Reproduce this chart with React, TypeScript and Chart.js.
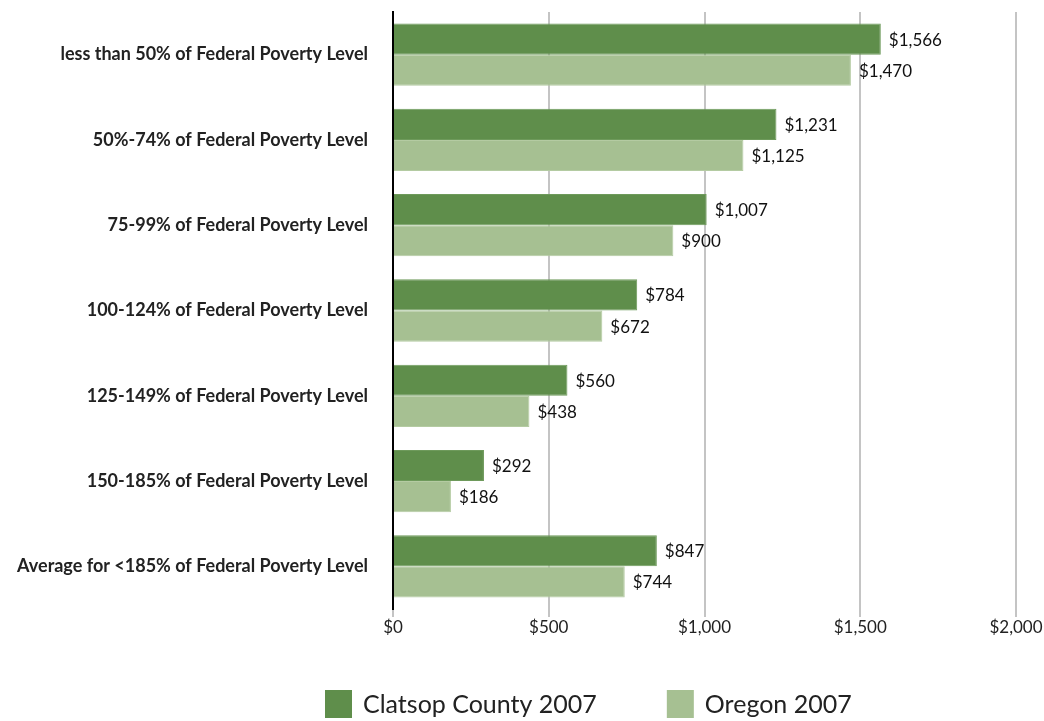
import React, { useEffect, useRef } from "react";
import { Chart, registerables } from "chart.js";

Chart.register(...registerables);

const categories = [
  "less than 50% of Federal Poverty Level",
  "50%-74% of Federal Poverty Level",
  "75-99% of Federal Poverty Level",
  "100-124% of Federal Poverty Level",
  "125-149% of Federal Poverty Level",
  "150-185% of Federal Poverty Level",
  "Average for <185% of Federal Poverty Level",
];
const clatsopValues = [1566, 1231, 1007, 784, 560, 292, 847];
const oregonValues = [1470, 1125, 900, 672, 438, 186, 744];
const seriesNames = ["Clatsop County 2007", "Oregon 2007"];
const seriesColors = ["#5f8e4b", "#a6c092"];
const xTicks = [0, 500, 1000, 1500, 2000];

const FONT = "Lato, 'Open Sans', sans-serif";
const fmt = (v: number) => "$" + v.toLocaleString("en-US");

const valueLabels = {
  id: "valueLabels",
  afterDatasetsDraw(chart: any) {
    const ctx = chart.ctx;
    ctx.save();
    ctx.font = `17px ${FONT}`;
    ctx.fillStyle = "#111";
    ctx.textAlign = "left";
    ctx.textBaseline = "middle";
    chart.data.datasets.forEach((ds: any, di: number) => {
      const meta = chart.getDatasetMeta(di);
      meta.data.forEach((bar: any, i: number) => {
        ctx.fillText(fmt(ds.data[i]), bar.x + 8, bar.y + 1);
      });
    });
    ctx.restore();
  },
};

const customLegend = {
  id: "customLegend",
  afterDraw(chart: any) {
    const ctx = chart.ctx;
    ctx.save();
    ctx.font = `25px ${FONT}`;
    ctx.textBaseline = "middle";
    const box = 27;
    const gap = 11;
    const spacing = 70;
    let x = 325;
    const cy = 704;
    seriesNames.forEach((n, i) => {
      ctx.fillStyle = seriesColors[i];
      ctx.fillRect(x, cy - 14, box, 28);
      ctx.fillStyle = "#222";
      ctx.fillText(n, x + box + gap, cy + 1);
      x += box + gap + ctx.measureText(n).width + spacing;
    });
    ctx.restore();
  },
};

export default function App() {
  const ref = useRef<HTMLCanvasElement>(null);
  useEffect(() => {
    document.body.style.margin = "0";
    const chart = new Chart(ref.current!, {
      type: "bar",
      data: {
        labels: categories,
        datasets: [
          {
            label: seriesNames[0],
            data: clatsopValues,
            backgroundColor: seriesColors[0],
            borderColor: "#6e9a5b",
            borderWidth: 1,
            categoryPercentage: 0.73,
            barPercentage: 1,
          },
          {
            label: seriesNames[1],
            data: oregonValues,
            backgroundColor: seriesColors[1],
            borderColor: "#b4cba2",
            borderWidth: 1,
            categoryPercentage: 0.73,
            barPercentage: 1,
          },
        ],
      },
      options: {
        indexAxis: "y",
        animation: false,
        responsive: false,
        layout: { padding: { top: 12, right: 28, bottom: 0, left: 0 } },
        plugins: {
          legend: { display: false },
          tooltip: { enabled: false },
        },
        scales: {
          x: {
            min: 0,
            max: 2000,
            afterBuildTicks: (s: any) => {
              s.ticks = xTicks.map((v) => ({ value: v }));
            },
            afterFit: (s: any) => {
              s.height = 112;
            },
            ticks: {
              callback: (v: any) => fmt(Number(v)),
              font: { family: FONT, size: 17 },
              color: "#222",
              padding: 0,
              maxRotation: 0,
            },
            grid: { color: "#c4c4c4", lineWidth: 2, tickLength: 8 },
            border: { display: false },
          },
          y: {
            afterFit: (s: any) => {
              s.width = 393;
              s.paddingTop = 0;
              s.paddingBottom = 0;
            },
            ticks: {
              font: { family: FONT, size: 18, weight: "bold" },
              color: "#222",
              padding: 17,
            },
            grid: { display: false },
            border: { display: true, color: "#000", width: 2 },
          },
        },
      },
      plugins: [valueLabels, customLegend],
    });
    return () => chart.destroy();
  }, []);
  return <canvas ref={ref} width={1044} height={721} style={{ display: "block" }} />;
}
